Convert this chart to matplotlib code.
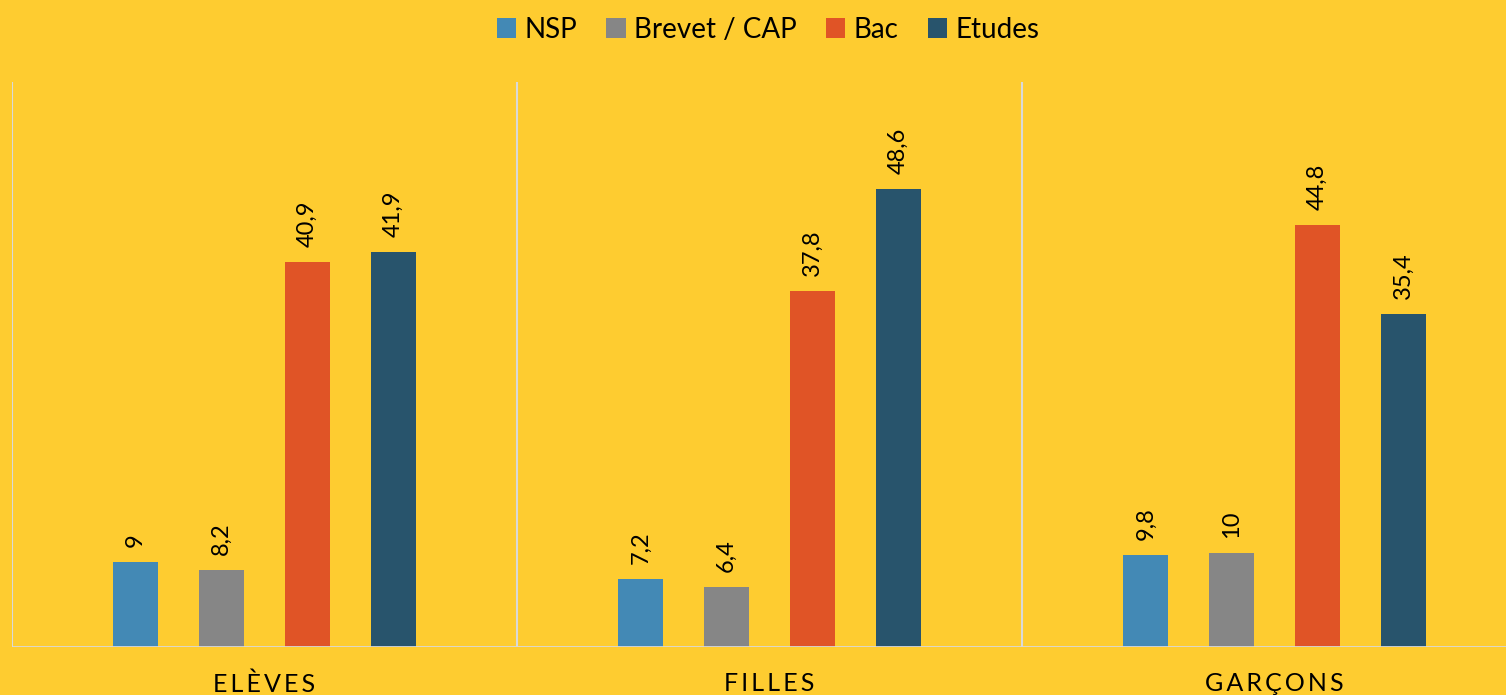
import numpy as np
import matplotlib.pyplot as plt

groups = ["ELÈVES", "FILLES", "GARÇONS"]
series = ["NSP", "Brevet / CAP", "Bac", "Etudes"]
values = {
    "NSP": [9, 7.2, 9.8],
    "Brevet / CAP": [8.2, 6.4, 10],
    "Bac": [40.9, 37.8, 44.8],
    "Etudes": [41.9, 48.6, 35.4],
}
colors = ["#4389B5", "#868686", "#E05426", "#28546C"]
bg = "#FECC30"

plt.rcParams['font.family'] = ['Lato', 'DejaVu Sans']

fig = plt.figure(figsize=(15.06, 6.95), dpi=100, facecolor=bg)
ax = fig.add_axes([12/1506, 48/695, 1494/1506, 565/695])
ax.set_facecolor(bg)

x = np.arange(len(groups))
w = 0.089
step = 0.170
for i, s in enumerate(series):
    xs = x + (i - 1.5) * step
    bars = ax.bar(xs, values[s], w, color=colors[i], label=s, zorder=3)
    for b, v in zip(bars, values[s]):
        txt = ("%g" % v).replace(".", ",")
        ax.text(b.get_x() + w/2, v + 1.6, txt, rotation=90, ha="center", va="bottom",
                fontsize=17, color="black")

ax.set_xlim(-0.5, -0.5 + 1494/505)
ax.set_ylim(0, 60)
for b in np.arange(-0.5, 3, 1):
    ax.axvline(b, color="#D9D9D9", lw=1.5, zorder=1)
ax.axhline(0, color="#D9D9D9", lw=2, zorder=4)
for sp in ax.spines.values():
    sp.set_visible(False)
ax.set_yticks([])
ax.set_xticks(x)
ax.set_xticklabels(["\u2009".join(g) for g in groups], fontsize=18)
ax.tick_params(axis="x", length=0, pad=18)

fig.legend(loc="upper center", bbox_to_anchor=(0.51, 1.012), ncol=4, frameon=False,
           fontsize=20, handlelength=0.7, handleheight=0.7, handletextpad=0.3,
           columnspacing=1.05)

fig.savefig("out.png", dpi=100, facecolor=bg)
